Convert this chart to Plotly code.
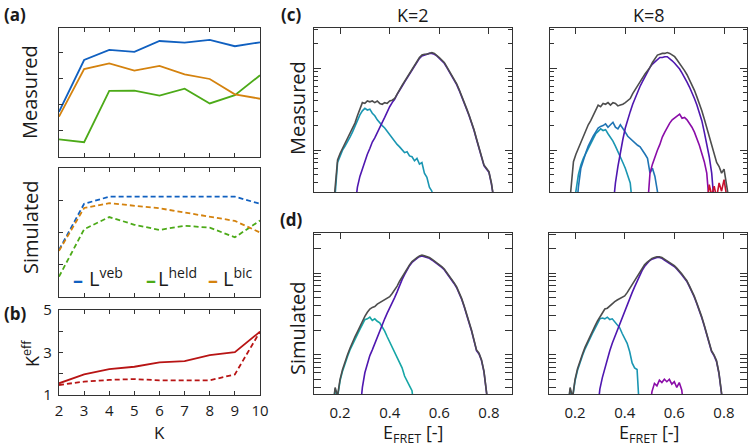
import plotly.graph_objects as go

W, H = 755, 448

# ---------------- panel (a)/(b) data ----------------
K = [2, 3, 4, 5, 6, 7, 8, 9, 10]
meas_veb = [1.74, 3.73, 4.12, 4.04, 4.46, 4.40, 4.50, 4.26, 4.41]
meas_held = [0.68, 0.57, 2.54, 2.55, 2.36, 2.63, 2.06, 2.38, 3.14]
meas_bic = [1.55, 3.38, 3.60, 3.32, 3.50, 3.18, 3.00, 2.41, 2.24]
sim_veb = [1.46, 2.89, 3.11, 3.11, 3.11, 3.11, 3.11, 3.11, 2.89]
sim_held = [0.63, 2.10, 2.48, 2.24, 2.08, 2.21, 2.15, 1.85, 2.37]
sim_bic = [1.43, 2.76, 2.91, 2.84, 2.75, 2.62, 2.49, 2.36, 2.00]
keff_meas = [1.55, 1.97, 2.22, 2.33, 2.54, 2.59, 2.88, 3.02, 3.98]
keff_sim = [1.47, 1.63, 1.71, 1.75, 1.69, 1.69, 1.69, 1.97, 3.98]
legend_labels = ["L<sup>veb</sup>", "L<sup>held</sup>", "L<sup>bic</sup>"]

# ---------------- panel (c)/(d) data: log10(counts), bins of 0.01 ----------------
E_ticks = [0.2, 0.4, 0.6, 0.8]

c2_total_start = 0.17
c2_total = [0.2, 0.5, 0.88, 0.96, 1.02, 1.08, 1.13, 1.2, 1.26, 1.33, 1.42, 1.5, 1.58, 1.57, 1.6, 1.59,
            1.6, 1.58, 1.6, 1.57, 1.56, 1.58, 1.57, 1.6, 1.61, 1.63, 1.69, 1.75, 1.79, 1.84, 1.89, 1.93,
            1.98, 2.04, 2.08, 2.13, 2.16, 2.17, 2.17, 2.18, 2.19, 2.18, 2.16, 2.13, 2.1, 2.07, 2.02, 1.97,
            1.92, 1.87, 1.81, 1.74, 1.67, 1.6, 1.51, 1.43, 1.35, 1.25, 1.14, 1.03, 0.9, 0.82, 0.78, 0.74,
            0.6, 0.4, 0.2]
c2_low_start = 0.17
c2_low = [0.2, 0.45, 0.85, 0.93, 1.0, 1.05, 1.1, 1.16, 1.22, 1.29, 1.37, 1.43, 1.48, 1.51, 1.49, 1.5,
          1.45, 1.42, 1.37, 1.33, 1.3, 1.27, 1.23, 1.19, 1.14, 1.1, 1.07, 1.04, 1.01, 0.97, 0.98, 0.93,
          0.92, 0.87, 0.9, 0.83, 0.85, 0.72, 0.67, 0.55, 0.5, 0.3]
c2_high_start = 0.26
c2_high = [0.3, 0.55, 0.68, 0.78, 0.88, 0.95, 1.02, 1.1, 1.15, 1.22, 1.28, 1.34, 1.4, 1.47, 1.53, 1.58,
           1.62, 1.68, 1.74, 1.78, 1.83, 1.88, 1.93, 1.97, 2.03, 2.07, 2.12, 2.15, 2.16, 2.17, 2.18, 2.18,
           2.17, 2.15, 2.12, 2.09, 2.06, 2.01, 1.96, 1.91, 1.86, 1.8, 1.73, 1.66, 1.59, 1.5, 1.42, 1.34,
           1.24, 1.13, 1.02, 0.89, 0.81, 0.77, 0.73, 0.59, 0.39, 0.2]

c8_total_start = 0.17
c8_total = [0.2, 0.55, 0.86, 0.95, 1.02, 1.1, 1.18, 1.25, 1.31, 1.36, 1.42, 1.5, 1.55, 1.53, 1.57, 1.56,
            1.58, 1.55, 1.58, 1.57, 1.54, 1.55, 1.56, 1.58, 1.6, 1.63, 1.69, 1.74, 1.79, 1.84, 1.88, 1.93,
            1.97, 2.01, 2.07, 2.12, 2.16, 2.17, 2.18, 2.18, 2.19, 2.18, 2.16, 2.14, 2.1, 2.06, 2.02, 1.97,
            1.92, 1.86, 1.8, 1.73, 1.65, 1.57, 1.48, 1.38, 1.27, 1.16, 1.06, 0.97, 0.85, 0.8, 0.72, 0.77,
            0.6, 0.45, 0.2]
c8_s1_start = 0.19
c8_s1 = [0.2, 0.5, 0.7, 0.82, 0.9, 0.96, 1.02, 1.08, 1.14, 1.2, 1.23, 1.26, 1.24, 1.25, 1.2, 1.16, 1.11,
         1.05, 0.99, 0.92, 0.85, 0.78, 0.7, 0.6, 0.3]
c8_s2_start = 0.20
c8_s2 = [0.2, 0.55, 0.78, 0.89, 0.97, 1.05, 1.12, 1.17, 1.22, 1.27, 1.29, 1.3, 1.32, 1.28, 1.31, 1.34,
         1.28, 1.26, 1.31, 1.27, 1.22, 1.17, 1.14, 1.12, 1.08, 1.06, 1.04, 1.0, 0.95, 0.9, 0.72, 0.78,
         0.68, 0.5, 0.3]
c8_s3_start = 0.35
c8_s3 = [0.3, 0.6, 0.8, 0.98, 1.13, 1.27, 1.38, 1.47, 1.56, 1.64, 1.71, 1.78, 1.84, 1.9, 1.96, 2.01,
         2.05, 2.08, 2.11, 2.13, 2.13, 2.14, 2.14, 2.12, 2.09, 2.06, 2.03, 1.99, 1.94, 1.89, 1.83, 1.77,
         1.71, 1.63, 1.55, 1.46, 1.36, 1.22, 1.08, 0.92, 0.72, 0.35]
c8_s4_start = 0.49
c8_s4 = [0.3, 0.72, 0.83, 0.92, 1.0, 1.07, 1.16, 1.22, 1.28, 1.33, 1.37, 1.39, 1.42, 1.44, 1.39, 1.4,
         1.37, 1.33, 1.28, 1.22, 1.15, 1.06, 0.96, 0.86, 0.72, 0.35]
c8_s5_start = 0.73
c8_s5 = [0.3, 0.58, 0.45, 0.56, 0.42, 0.6, 0.5, 0.64, 0.45, 0.3]

d2_total_start = 0.17
d2_total = [0.3, 0.6, 0.5, 0.7, 0.82, 0.92, 1.0, 1.08, 1.16, 1.22, 1.28, 1.35, 1.42, 1.47, 1.52, 1.56,
            1.58, 1.59, 1.62, 1.64, 1.66, 1.67, 1.69, 1.71, 1.75, 1.79, 1.84, 1.9, 1.95, 2.0, 2.06, 2.1,
            2.14, 2.17, 2.19, 2.21, 2.22, 2.21, 2.2, 2.19, 2.17, 2.15, 2.13, 2.1, 2.08, 2.05, 2.01, 1.97,
            1.93, 1.88, 1.83, 1.77, 1.69, 1.6, 1.51, 1.4, 1.3, 1.18, 1.06, 1.02, 0.94, 0.8, 0.55, 0.3]
d2_low_start = 0.17
d2_low = [0.3, 0.58, 0.48, 0.68, 0.8, 0.9, 0.98, 1.06, 1.13, 1.19, 1.25, 1.31, 1.38, 1.43, 1.44, 1.46,
          1.42, 1.44, 1.41, 1.39, 1.34, 1.29, 1.22, 1.16, 1.1, 1.04, 0.96, 0.9, 0.84, 0.74, 0.67, 0.62,
          0.56, 0.3]
d2_high_start = 0.28
d2_high = [0.3, 0.6, 0.78, 0.9, 0.99, 1.06, 1.14, 1.22, 1.29, 1.36, 1.44, 1.51, 1.57, 1.62, 1.7, 1.77,
           1.85, 1.92, 1.98, 2.04, 2.09, 2.13, 2.16, 2.18, 2.2, 2.21, 2.2, 2.19, 2.18, 2.16, 2.14, 2.12,
           2.09, 2.07, 2.04, 2.0, 1.96, 1.92, 1.87, 1.82, 1.76, 1.68, 1.59, 1.5, 1.39, 1.29, 1.17, 1.05,
           1.01, 0.93, 0.79, 0.54, 0.3]

d8_total_start = 0.17
d8_total = [0.3, 0.6, 0.48, 0.7, 0.83, 0.93, 1.01, 1.09, 1.16, 1.22, 1.28, 1.35, 1.41, 1.46, 1.52, 1.56,
            1.57, 1.6, 1.62, 1.65, 1.67, 1.69, 1.7, 1.72, 1.76, 1.81, 1.86, 1.91, 1.96, 2.01, 2.06, 2.1,
            2.13, 2.16, 2.18, 2.19, 2.2, 2.2, 2.19, 2.17, 2.15, 2.14, 2.12, 2.09, 2.06, 2.03, 1.99, 1.95,
            1.91, 1.85, 1.79, 1.72, 1.64, 1.56, 1.47, 1.37, 1.27, 1.16, 1.05, 1.0, 0.93, 0.78, 0.55, 0.3]
d8_s1_start = 0.17
d8_s1 = [0.3, 0.58, 0.47, 0.68, 0.81, 0.91, 0.99, 1.07, 1.14, 1.2, 1.26, 1.32, 1.39, 1.44, 1.45, 1.44,
         1.46, 1.43, 1.44, 1.4, 1.37, 1.33, 1.26, 1.2, 1.14, 1.04, 0.9, 0.84, 0.82, 0.3]
d8_s2_start = 0.29
d8_s2 = [0.3, 0.58, 0.72, 0.84, 0.95, 1.05, 1.14, 1.22, 1.3, 1.38, 1.46, 1.53, 1.61, 1.68, 1.76, 1.83,
         1.9, 1.97, 2.03, 2.08, 2.12, 2.15, 2.17, 2.18, 2.19, 2.19, 2.18, 2.16, 2.14, 2.13, 2.11, 2.08,
         2.05, 2.02, 1.98, 1.94, 1.9, 1.84, 1.78, 1.71, 1.63, 1.55, 1.46, 1.36, 1.26, 1.15, 1.04, 0.99,
         0.92, 0.77, 0.54, 0.3]
d8_s3_start = 0.50
d8_s3 = [0.3, 0.55, 0.65, 0.62, 0.69, 0.66, 0.7, 0.67, 0.7, 0.64, 0.67, 0.6, 0.66, 0.57, 0.3]

# ---------------- styles ----------------
FONT = "Open Sans"
TXT = "#1a1a1a"
FRAME = "#333333"
C_VEB, C_HELD, C_BIC = "#1060c0", "#4caa18", "#d4820e"
C_KEFF = "#b81414"
C_GRAY = "#4d4d4d"
C_TEAL_C = "#1a96b2"
C_TEAL_D = "#16a6a6"
C_BLUE2 = "#1f74b4"
C_PURPLE = "#4f17b0"
C_MAGENTA = "#8a0ca8"
C_RED = "#c8102e"
DASH = "5px,3px"


def bins(e0, n):
    return [round(e0 + 0.01 * i, 2) for i in range(n)]


def dx(a, b):
    return [a / W, b / W]


def dy(top, bottom):
    return [1 - bottom / H, 1 - top / H]


fig = go.Figure()


def line(x, y, color, xa, ya, dash=None, width=1.8):
    fig.add_trace(go.Scatter(x=x, y=y, mode="lines", xaxis=xa, yaxis=ya, showlegend=False,
                             line=dict(color=color, width=width, dash=dash), hoverinfo="skip"))


# (a) measured
line(K, meas_veb, C_VEB, "x", "y")
line(K, meas_held, C_HELD, "x", "y")
line(K, meas_bic, C_BIC, "x", "y")
# (a) simulated
line(K, sim_veb, C_VEB, "x2", "y2", DASH)
line(K, sim_held, C_HELD, "x2", "y2", DASH)
line(K, sim_bic, C_BIC, "x2", "y2", DASH)
# (b)
line(K, keff_meas, C_KEFF, "x3", "y3")
line(K, keff_sim, C_KEFF, "x3", "y3", DASH)


def hist(start, vals, color, xa, ya, width=1.6):
    line(bins(start, len(vals)), [10 ** v for v in vals], color, xa, ya, width=width)


# (c) K=2
hist(c2_low_start, c2_low, C_TEAL_C, "x4", "y4")
hist(c2_high_start, c2_high, C_PURPLE, "x4", "y4")
hist(c2_total_start, c2_total, C_GRAY, "x4", "y4")
# (c) K=8
hist(c8_s1_start, c8_s1, C_TEAL_C, "x5", "y5")
hist(c8_s2_start, c8_s2, C_BLUE2, "x5", "y5")
hist(c8_s3_start, c8_s3, C_PURPLE, "x5", "y5")
hist(c8_s4_start, c8_s4, C_MAGENTA, "x5", "y5")
hist(c8_s5_start, c8_s5, C_RED, "x5", "y5")
hist(c8_total_start, c8_total, C_GRAY, "x5", "y5")
# (d) K=2
hist(d2_low_start, d2_low, C_TEAL_D, "x6", "y6")
hist(d2_high_start, d2_high, C_PURPLE, "x6", "y6")
hist(d2_total_start, d2_total, C_GRAY, "x6", "y6")
# (d) K=8
hist(d8_s1_start, d8_s1, C_TEAL_C, "x7", "y7")
hist(d8_s2_start, d8_s2, C_PURPLE, "x7", "y7")
hist(d8_s3_start, d8_s3, C_MAGENTA, "x7", "y7")
hist(d8_total_start, d8_total, C_GRAY, "x7", "y7")

# dummy traces so the label-only overlay axes render
for xa, ya in (("x8", "y6"), ("x9", "y7")):
    fig.add_trace(go.Scatter(x=[None], y=[None], xaxis=xa, yaxis=ya, showlegend=False, hoverinfo="skip"))

frame = dict(showline=True, linecolor=FRAME, linewidth=1.3, showgrid=False, zeroline=False,
             tickcolor=FRAME, tickwidth=1.2, automargin=False)
tickfont = dict(family=FONT, size=15, color=TXT)

E_RANGE = [0.095, 0.893]
minor_vals = [2, 3, 4, 5, 6, 7, 8, 9, 20, 30, 40, 50, 60, 70, 80, 90, 200, 300]

layout = dict(
    template="none",
    width=W, height=H, margin=dict(l=0, r=0, t=0, b=0, pad=0, autoexpand=False),
    paper_bgcolor="white", plot_bgcolor="white", showlegend=False,
    font=dict(family=FONT, color=TXT),
    xaxis=dict(domain=dx(59, 260), anchor="y", range=[2, 10], tickvals=K[1:-1], ticks="inside",
               ticklen=4, showticklabels=False, mirror="ticks", **frame),
    yaxis=dict(domain=dy(28, 157), anchor="x", range=[0, 4.96], tickvals=[1, 2, 3, 4], ticks="inside",
               ticklen=4, showticklabels=False, mirror=True, **frame),
    xaxis2=dict(domain=dx(59, 260), anchor="y2", range=[2, 10], tickvals=K[1:-1], ticks="inside",
                ticklen=4, showticklabels=False, mirror="ticks", **frame),
    yaxis2=dict(domain=dy(168, 297), anchor="x2", range=[0, 4.0], tickvals=[1, 2, 3], ticks="inside",
                ticklen=4, showticklabels=False, mirror=True, **frame),
    xaxis3=dict(domain=dx(59, 260), anchor="y3", range=[2, 10], tickvals=K, ticktext=[str(k) for k in K],
                ticks="inside", ticklen=4, mirror="ticks", tickfont=tickfont, ticklabelstandoff=2, **frame),
    yaxis3=dict(domain=dy(310, 395), anchor="x3", range=[1, 5], tickvals=[1, 3, 5],
                ticktext=["1", "3", "5"], ticks="inside", ticklen=4, mirror=True,
                minor=dict(tickvals=[2, 4], ticks="inside", ticklen=4, tickcolor=FRAME, tickwidth=1.2),
                tickfont=tickfont, ticklabelstandoff=3, **frame),
)

panels = {4: ((314, 512), (28, 192), [0.49, 2.49]),
          5: ((550, 747), (28, 192), [0.49, 2.49]),
          6: ((314, 512), (233, 394), [0.52, 2.49]),
          7: ((549, 747), (233, 394), [0.52, 2.49])}
for i, ((x0, x1), (y0, y1), yr) in panels.items():
    layout[f"xaxis{i}"] = dict(domain=dx(x0, x1), anchor=f"y{i}", side="top", range=E_RANGE,
                               tickvals=E_ticks, ticks="inside", ticklen=6, showticklabels=False,
                               mirror=True, **frame)
    layout[f"yaxis{i}"] = dict(domain=dy(y0, y1), anchor=f"x{i}", type="log", range=yr,
                               tickvals=[10, 100], ticks="inside", ticklen=7, showticklabels=False,
                               mirror="allticks",
                               minor=dict(tickvals=minor_vals, ticks="inside", ticklen=3.5,
                                          tickcolor=FRAME, tickwidth=1),
                               **frame)
for i, base in ((8, 6), (9, 7)):
    layout[f"xaxis{i}"] = dict(overlaying=f"x{base}", anchor=f"y{base}", side="bottom", range=E_RANGE,
                               tickvals=E_ticks, ticktext=["0.2", "0.4", "0.6", "0.8"], ticks="",
                               showline=False, showgrid=False, zeroline=False, tickfont=tickfont,
                               ticklabelstandoff=8, automargin=False)

fig.update_layout(**layout)


def note(x, y, text, size=18, angle=0, color=TXT, xanchor="center"):
    fig.add_annotation(x=x / W, y=1 - y / H, xref="paper", yref="paper", text=text, showarrow=False,
                       textangle=angle, xanchor=xanchor, yanchor="middle",
                       font=dict(family=FONT, size=size, color=color))


note(15, 14, "<b>(a)</b>", 17)
note(15, 313, "<b>(b)</b>", 17)
note(291, 14, "<b>(c)</b>", 17)
note(291, 219, "<b>(d)</b>", 17)
note(30, 92, "Measured", 20, -90)
note(30, 227, "Simulated", 20, -90)
note(31, 353, "K<sup>eff</sup>", 18, -90)
note(159, 432, "K", 17)
note(413, 15, "K=2", 18)
note(649, 15, "K=8", 18)
note(297, 108, "Measured", 20, -90)
note(297, 328, "Simulated", 20, -90)
note(413, 433, "E<sub>FRET</sub> [-]", 18)
note(649, 433, "E<sub>FRET</sub> [-]", 18)

# legend inside simulated panel
for xd, xt, col, lab in ((78, 87, C_VEB, legend_labels[0]), (151, 156, C_HELD, legend_labels[1]),
                         (213, 221, C_BIC, legend_labels[2])):
    note(xd, 279, "<b>–</b>", 20, color=col)
    note(xt, 277, lab, 20, xanchor="left")

fig.write_html("out.html", config={"displayModeBar": False},
               post_script="document.body.style.margin='0';document.body.style.padding='0';")
